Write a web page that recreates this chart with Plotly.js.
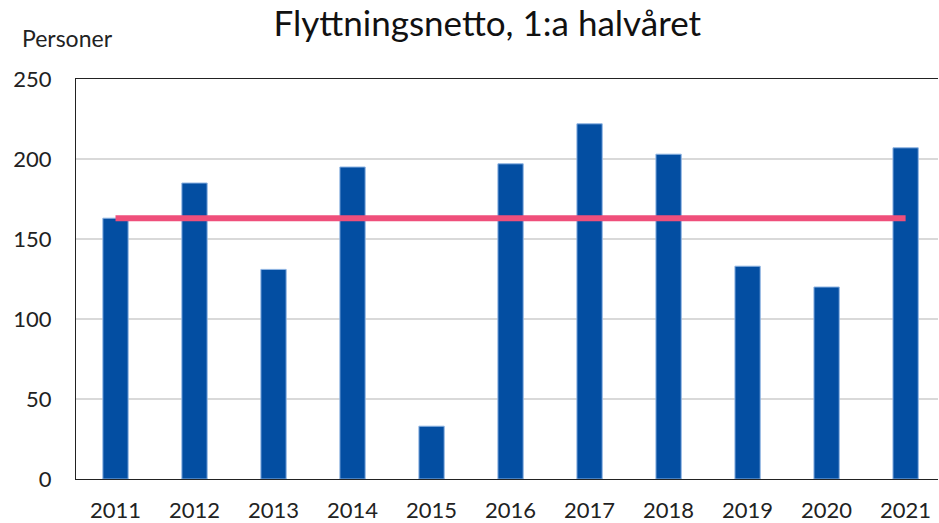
<!DOCTYPE html>
<html>
<head>
<meta charset="utf-8">
<script src="https://cdn.plot.ly/plotly-3.0.1.min.js"></script>
<style>
  html, body { margin: 0; padding: 0; background: #fff; }
  #chart { width: 939px; height: 523px; }
</style>
</head>
<body>
<div id="chart"></div>
<script>
// Flyttningsnetto per year (first half-year)
const years = ["2011", "2012", "2013", "2014", "2015", "2016", "2017", "2018", "2019", "2020", "2021"];
const netMigration = [163, 185, 131, 195, 33, 197, 222, 203, 133, 120, 207];
// average line, same value for every year
const averageLine = [163, 163, 163, 163, 163, 163, 163, 163, 163, 163, 163];

const FONT = "Lato, 'Open Sans', sans-serif";

const bars = {
  x: years,
  y: netMigration,
  type: "bar",
  name: "Flyttningsnetto",
  marker: {
    color: "#034ea2",
    line: { color: "#8fb4e3", width: 1 },
  },
  hoverinfo: "x+y",
};

const avg = {
  x: years,
  y: averageLine,
  type: "scatter",
  mode: "lines",
  name: "Medel",
  line: { color: "#ef4f7b", width: 6 },
  hoverinfo: "y",
};

Plotly.newPlot("chart", [bars, avg], {
  width: 939,
  height: 523,
  margin: { l: 76, r: 1, t: 79, b: 44 },
  paper_bgcolor: "#fff",
  plot_bgcolor: "#fff",
  showlegend: false,
  bargap: 0.68,
  font: { family: FONT, color: "#222", size: 22 },
  title: {
    text: "Flyttningsnetto, 1:a halvåret",
    font: { family: FONT, size: 35, color: "#111" },
    x: 0.519,
    xanchor: "center",
    y: 0.955,
    yanchor: "middle",
  },
  xaxis: {
    type: "category",
    range: [-0.5, 10.41],
    showline: true,
    mirror: true,
    linecolor: "#222",
    linewidth: 1,
    ticks: "",
    ticklabelstandoff: 12,
    showgrid: false,
    tickfont: { family: FONT, size: 22, color: "#222" },
    fixedrange: true,
  },
  yaxis: {
    range: [0, 250],
    dtick: 50,
    showline: true,
    linecolor: "#222",
    linewidth: 1,
    ticks: "",
    ticklabelstandoff: 19,
    gridcolor: "#d9d9d9",
    gridwidth: 2,
    zeroline: false,
    tickfont: { family: FONT, size: 22, color: "#222" },
    fixedrange: true,
  },
  annotations: [
    {
      text: "Personer",
      xref: "paper",
      yref: "paper",
      x: -0.065,
      xanchor: "left",
      y: 1.1025,
      yanchor: "middle",
      showarrow: false,
      font: { family: FONT, size: 23, color: "#222" },
    },
  ],
}, { displayModeBar: false, staticPlot: true });
</script>
</body>
</html>
